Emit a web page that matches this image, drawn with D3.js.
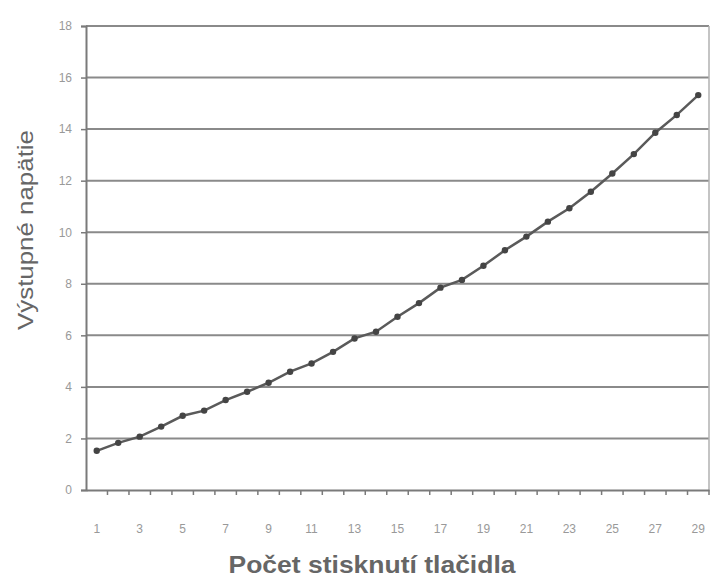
<!DOCTYPE html>
<html><head><meta charset="utf-8">
<script src="https://cdn.jsdelivr.net/npm/d3@7"></script>
<style>body{margin:0;background:#fff}svg{display:block}</style>
</head><body>
<svg id="c" width="712" height="583"></svg>
<script>
const categories = d3.range(1, 30);
const values = [1.52,1.83,2.07,2.46,2.88,3.08,3.49,3.81,4.16,4.59,4.91,5.36,5.88,6.14,6.72,7.25,7.85,8.15,8.7,9.3,9.83,10.41,10.93,11.57,12.28,13.03,13.86,14.55,15.32];
const yTicks = [0,2,4,6,8,10,12,14,16,18];
const xLabels = categories.filter(d => d % 2 === 1);
const yTitle = "Výstupné napätie";
const xTitle = "Počet stisknutí tlačidla";

const svg = d3.select("#c");
const L = 86, R = 709, T = 26, B = 490;
const x = d3.scaleBand().domain(categories).range([L, R]).padding(0);
const y = d3.scaleLinear().domain([0, 18]).range([B, T]);

// gridlines
svg.append("g").selectAll("line").data(yTicks.filter(d => d > 0)).join("line")
  .attr("x1", L).attr("x2", R).attr("y1", d => y(d)).attr("y2", d => y(d))
  .attr("stroke", "#8a8a8a").attr("stroke-width", 2);
// right border
svg.append("line").attr("x1", R).attr("x2", R).attr("y1", T).attr("y2", B)
  .attr("stroke", "#b0b0b0").attr("stroke-width", 1.5);

// y axis
const yAxis = svg.append("g").attr("transform", `translate(${L},0)`)
  .call(d3.axisLeft(y).tickValues(yTicks).tickSize(5).tickPadding(9).tickFormat(d3.format("d")));
yAxis.select(".domain").attr("stroke", "#7a7a7a").attr("stroke-width", 2);
yAxis.selectAll(".tick line").attr("stroke", "#7a7a7a").attr("stroke-width", 1.5);
yAxis.selectAll("text").attr("fill", "#999").style("font", "12px 'Liberation Sans', Arial, sans-serif");

// x axis
const xAxis = svg.append("g").attr("transform", `translate(0,${B})`)
  .call(d3.axisBottom(x).tickValues(xLabels).tickSize(0).tickPadding(34)
    .tickFormat(d3.format("d")));
xAxis.select(".domain").attr("stroke", "#7a7a7a").attr("stroke-width", 2);
xAxis.selectAll("text").attr("fill", "#999").style("font", "12px 'Liberation Sans', Arial, sans-serif");
// boundary ticks
svg.append("g").selectAll("line").data(categories.slice(1).concat(["end"])).join("line")
  .attr("x1", d => d === "end" ? R : x(d)).attr("x2", d => d === "end" ? R : x(d))
  .attr("y1", B).attr("y2", B + 5)
  .attr("stroke", "#7a7a7a").attr("stroke-width", 1.5);

// line
const pts = categories.map((c, i) => [x(c) + x.bandwidth() / 2, y(values[i])]);
svg.append("path").datum(pts).attr("d", d3.line())
  .attr("fill", "none").attr("stroke", "#5a5a5a").attr("stroke-width", 2.5);
svg.append("g").selectAll("circle").data(pts).join("circle")
  .attr("cx", d => d[0]).attr("cy", d => d[1]).attr("r", 3.2).attr("fill", "#444");

// titles
svg.append("text").attr("transform", `translate(33,230) rotate(-90)`)
  .attr("text-anchor", "middle").attr("fill", "#666")
  .attr("textLength", 200).attr("lengthAdjust", "spacingAndGlyphs")
  .style("font", "22px 'Liberation Sans', Arial, sans-serif").text(yTitle);
svg.append("text").attr("x", 372).attr("y", 573).attr("text-anchor", "middle").attr("fill", "#666")
  .attr("textLength", 287).attr("lengthAdjust", "spacingAndGlyphs")
  .style("font", "bold 24px 'Liberation Sans', Arial, sans-serif").text(xTitle);
</script>
</body></html>
